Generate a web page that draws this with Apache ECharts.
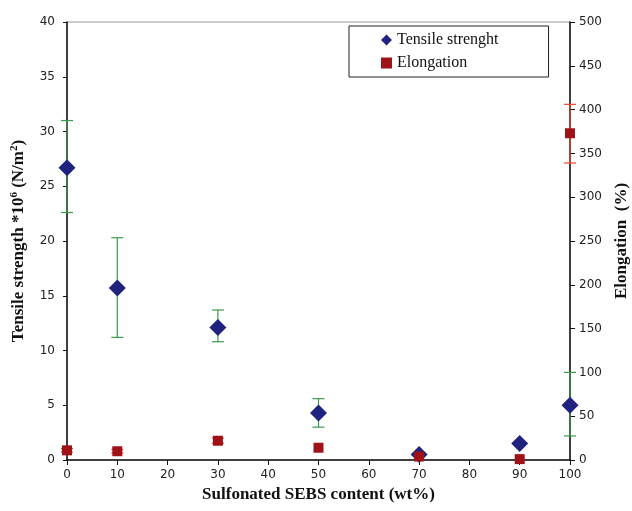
<!DOCTYPE html>
<html>
<head>
<meta charset="utf-8">
<script src="https://cdn.jsdelivr.net/npm/echarts@6/dist/echarts.min.js"></script>
<style>
  html, body { margin: 0; padding: 0; background: #fff; }
  #main { width: 632px; height: 511px; }
</style>
</head>
<body>
<div id="main"></div>
<script>
// sulfonated SEBS content (wt%)
const content = [0, 10, 30, 50, 70, 90, 100]

// tensile strength *10^6 (N/m2), with error range
const tensile = [26.7, 15.7, 12.1, 4.3, 0.5, 1.5, 5.0]
const tensileLow = [22.6, 11.2, 10.8, 3.0, null, null, 2.2]
const tensileHigh = [31.0, 20.3, 13.7, 5.6, null, null, 8.0]

// elongation (%), with error range
const elongation = [11, 10, 22, 14, 4, 1, 373]
const elongLow = [9, 8, 19, null, null, null, 339]
const elongHigh = [13, 12, 25, null, null, null, 406]

const pairs = (xs, ys) => xs.map((x, i) => [x, ys[i]])
const errRows = (lo, hi) => content
  .map((x, i) => [x, lo[i], hi[i]])
  .filter(d => d[1] != null)

const errorBar = (color, cap) => (params, api) => {
  const top = api.coord([api.value(0), api.value(2)])
  const bot = api.coord([api.value(0), api.value(1)])
  const style = { stroke: color, lineWidth: 1.2 }
  return {
    type: "group",
    children: [
      { type: "line", shape: { x1: top[0], y1: top[1], x2: bot[0], y2: bot[1] }, style },
      { type: "line", shape: { x1: top[0] - cap, y1: top[1], x2: top[0] + cap, y2: top[1] }, style },
      { type: "line", shape: { x1: bot[0] - cap, y1: bot[1], x2: bot[0] + cap, y2: bot[1] }, style }
    ]
  }
}

const tickFont = { fontFamily: "DejaVu Sans", fontSize: 12, color: "#222" }
const nameFont = { fontFamily: "Liberation Serif", fontWeight: "bold", fontSize: 17, color: "#111" }

let chart = echarts.init(document.getElementById("main"))

let option = {
  backgroundColor: "#fff",
  animation: false,
  grid: {
    left: 67, right: 62, top: 22, bottom: 51,
    outerBoundsMode: "none",
    show: true, borderColor: "#999", borderWidth: 1
  },
  legend: {
    data: ["Tensile strenght", "Elongation"],
    orient: "vertical",
    left: 349, top: 26,
    padding: [6, 50, 6, 32],
    itemGap: 7,
    itemWidth: 11, itemHeight: 11,
    borderColor: "#222", borderWidth: 1,
    backgroundColor: "#fff",
    selectedMode: false,
    textStyle: { fontFamily: "Liberation Serif", fontSize: 16, color: "#111" }
  },
  xAxis: {
    type: "value",
    min: 0, max: 100, interval: 10,
    splitLine: { show: false },
    axisLine: { lineStyle: { color: "#111", width: 1.5 } },
    axisTick: { lineStyle: { color: "#111" }, length: 5 },
    axisLabel: Object.assign({ margin: 9 }, tickFont),
    name: "Sulfonated SEBS content (wt%)",
    nameLocation: "middle",
    nameGap: 24,
    nameTextStyle: nameFont
  },
  yAxis: [
    {
      type: "value",
      min: 0, max: 40, interval: 5,
      splitLine: { show: false },
      axisLine: { show: true, lineStyle: { color: "#111", width: 1.5 } },
      axisTick: { show: true, lineStyle: { color: "#111" }, length: 4 },
      axisLabel: Object.assign({ margin: 12 }, tickFont),
      name: "{a|Tensile strength *10}{s|6}{a| (N/m}{s|2}{a|)}",
      nameLocation: "middle",
      nameGap: 38,
      nameTextStyle: {
        rich: {
          a: Object.assign({ lineHeight: 20 }, nameFont),
          s: Object.assign({}, nameFont, { fontSize: 11, verticalAlign: "top", lineHeight: 20 })
        }
      }
    },
    {
      type: "value",
      position: "right",
      min: 0, max: 500, interval: 50,
      splitLine: { show: false },
      axisLine: { show: true, lineStyle: { color: "#111", width: 1.5 } },
      axisTick: { show: true, lineStyle: { color: "#111" }, length: 5 },
      axisLabel: Object.assign({ margin: 9 }, tickFont),
      name: "Elongation  (%)",
      nameLocation: "middle",
      nameRotate: 90,
      nameGap: 43,
      nameTextStyle: nameFont
    }
  ],
  series: [
    {
      name: "tensileErr",
      type: "custom",
      yAxisIndex: 0,
      clip: false,
      renderItem: errorBar("#3c9a4e", 6),
      encode: { x: 0, y: [1, 2] },
      data: errRows(tensileLow, tensileHigh),
      z: 1
    },
    {
      name: "elongErr",
      type: "custom",
      yAxisIndex: 1,
      clip: false,
      renderItem: errorBar("#f0452c", 6),
      encode: { x: 0, y: [1, 2] },
      data: errRows(elongLow, elongHigh),
      z: 1
    },
    {
      name: "Tensile strenght",
      type: "scatter",
      yAxisIndex: 0,
      clip: false,
      symbol: "diamond",
      symbolSize: [17, 17],
      itemStyle: { color: "#1f237f", opacity: 1 },
      data: pairs(content, tensile),
      z: 3
    },
    {
      name: "Elongation",
      type: "scatter",
      yAxisIndex: 1,
      clip: false,
      symbol: "rect",
      symbolSize: 10,
      itemStyle: { color: "#9e1218", opacity: 1 },
      data: pairs(content, elongation),
      z: 3
    }
  ]
}

chart.setOption(option)
</script>
</body>
</html>
